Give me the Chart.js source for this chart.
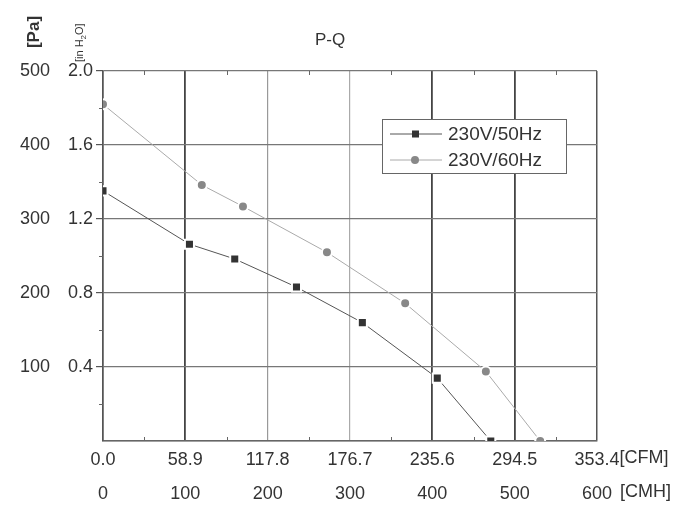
<!DOCTYPE html>
<html>
<head>
<meta charset="utf-8">
<script src="https://cdn.jsdelivr.net/npm/chart.js@4.4.0/dist/chart.umd.min.js"></script>
<style>
  html, body { margin: 0; padding: 0; background: #fff; }
  #wrap { width: 700px; height: 524px; }
</style>
</head>
<body>
<div id="wrap"><canvas id="pqChart"></canvas></div>
<script>
// tick labels
var cmhTicks = [0, 100, 200, 300, 400, 500, 600];
var cfmLabels = ["0.0", "58.9", "117.8", "176.7", "235.6", "294.5", "353.4"];
var paTicks = [0, 100, 200, 300, 400, 500];
var inh2oLabels = ["0.0", "0.4", "0.8", "1.2", "1.6", "2.0"];

// series (flow in CMH, pressure in Pa)
var seriesNames = ["230V/50Hz", "230V/60Hz"];
var flow50 = [0, 105, 160, 235, 315, 406, 471];
var press50 = [338, 266, 246, 208, 160, 85, 0];
var flow60 = [0, 120, 170, 272, 367, 465, 531];
var press60 = [455, 346, 317, 255, 186, 94, 0];

function toPoints(xs, ys) {
  return xs.map(function (x, i) { return { x: x, y: ys[i] }; });
}

// darker vertical lines like the original sheet
var vGridColor = ['#555', '#444', '#999', '#aaa', '#444', '#444', '#555'];
var vGridWidth = [1.5, 1.8, 1.2, 1.2, 1.8, 1.8, 1.5];

var FONT = '"Liberation Sans", Arial, sans-serif';
Chart.defaults.font.family = FONT;
Chart.defaults.font.size = 18;
Chart.defaults.color = '#333';

var extras = {
  id: 'extras',
  afterDatasetsDraw: function (chart) {
    // minor ticks halfway between the major ones
    var ctx = chart.ctx, area = chart.chartArea;
    var xm = chart.scales.x, yp = chart.scales.y;
    ctx.save();
    ctx.strokeStyle = '#666';
    ctx.lineWidth = 1;
    ctx.beginPath();
    for (var i = 0; i < cmhTicks.length - 1; i++) {
      var px = Math.round(xm.getPixelForValue((cmhTicks[i] + cmhTicks[i + 1]) / 2)) + 0.5;
      ctx.moveTo(px, area.bottom);
      ctx.lineTo(px, area.bottom - 4);
      ctx.moveTo(px, area.top);
      ctx.lineTo(px, area.top + 4);
    }
    for (var j = 0; j < paTicks.length - 1; j++) {
      var py = Math.round(yp.getPixelForValue((paTicks[j] + paTicks[j + 1]) / 2)) + 0.5;
      ctx.moveTo(area.left, py);
      ctx.lineTo(area.left - 4, py);
    }
    ctx.stroke();
    ctx.restore();
  },
  afterDraw: function (chart) {
    var ctx = chart.ctx, area = chart.chartArea;
    ctx.save();
    ctx.fillStyle = '#333';
    ctx.font = '17px ' + FONT;
    ctx.textBaseline = 'middle';

    // title
    ctx.textAlign = 'center';
    ctx.fillText('P-Q', area.left + 227, area.top - 31);

    // axis units after the last tick
    ctx.font = '18px ' + FONT;
    var xc = chart.scales.xCfm, xm = chart.scales.x;
    ctx.textAlign = 'left';
    var lastCfm = cfmLabels[cfmLabels.length - 1];
    var px = xc.getPixelForValue(parseFloat(lastCfm));
    ctx.fillText('[CFM]', px + ctx.measureText(lastCfm).width / 2, area.bottom + 17);
    var lastCmh = String(cmhTicks[cmhTicks.length - 1]);
    px = xm.getPixelForValue(cmhTicks[cmhTicks.length - 1]);
    ctx.fillText('[CMH]', px + ctx.measureText(lastCmh).width / 2 + 8, area.bottom + 51);

    // y titles, rotated
    ctx.save();
    ctx.translate(34, area.top - 39);
    ctx.rotate(-Math.PI / 2);
    ctx.textAlign = 'center';
    ctx.font = 'bold 17px ' + FONT;
    ctx.fillText('[Pa]', 0, 0);
    ctx.restore();

    ctx.save();
    ctx.translate(80, area.top - 9);
    ctx.rotate(-Math.PI / 2);
    ctx.textAlign = 'left';
    ctx.font = '11px ' + FONT;
    var t1 = '[in H', t2 = '2', t3 = 'O]';
    var w1 = ctx.measureText(t1).width;
    ctx.fillText(t1, 0, 0);
    ctx.font = '8px ' + FONT;
    ctx.fillText(t2, w1, 4);
    var w2 = ctx.measureText(t2).width;
    ctx.font = '11px ' + FONT;
    ctx.fillText(t3, w1 + w2, 0);
    ctx.restore();

    // legend box
    var lx = area.left + 279, ly = area.top + 48, lw = 184, lh = 54;
    ctx.fillStyle = '#fff';
    ctx.fillRect(lx, ly, lw, lh);
    ctx.strokeStyle = '#666';
    ctx.lineWidth = 1;
    ctx.strokeRect(lx + 0.5, ly + 0.5, lw, lh);
    ctx.font = '19px ' + FONT;
    chart.data.datasets.forEach(function (ds, i) {
      var ry = ly + 15 + i * 26;
      ctx.strokeStyle = ds.borderColor;
      ctx.lineWidth = 1;
      ctx.beginPath();
      ctx.moveTo(lx + 8, ry);
      ctx.lineTo(lx + 60, ry);
      ctx.stroke();
      ctx.fillStyle = ds.pointBackgroundColor;
      if (ds.pointStyle === 'rect') {
        ctx.fillRect(lx + 30, ry - 3.5, 7, 7);
      } else {
        ctx.beginPath();
        ctx.arc(lx + 33, ry, 4, 0, Math.PI * 2);
        ctx.fill();
      }
      ctx.fillStyle = '#333';
      ctx.textAlign = 'left';
      ctx.fillText(ds.label, lx + 66, ry + 1);
    });
    ctx.restore();
  }
};

var ctx = document.getElementById('pqChart');
var pqChart = new Chart(ctx, {
  type: 'line',
  data: {
    datasets: [{
      label: seriesNames[0],
      data: toPoints(flow50, press50),
      borderColor: '#555',
      borderWidth: 1,
      pointStyle: 'rect',
      pointRadius: 6.4,
      pointBackgroundColor: '#333',
      pointBorderColor: '#fff',
      pointBorderWidth: 2,
      xAxisID: 'x',
      yAxisID: 'y',
      clip: 0
    }, {
      label: seriesNames[1],
      data: toPoints(flow60, press60),
      borderColor: '#aaa',
      borderWidth: 1,
      pointStyle: 'circle',
      pointRadius: 5,
      pointBackgroundColor: '#888',
      pointBorderColor: '#fff',
      pointBorderWidth: 2,
      xAxisID: 'x',
      yAxisID: 'y',
      clip: 0
    }]
  },
  options: {
    responsive: true,
    maintainAspectRatio: false,
    animation: false,
    layout: { padding: { left: 0, top: 71, right: 103, bottom: 0 } },
    plugins: {
      legend: { display: false },
      tooltip: { enabled: false }
    },
    scales: {
      x: {
        type: 'linear',
        position: 'bottom',
        weight: 1,
        min: 0,
        max: 600,
        afterBuildTicks: function (scale) {
          scale.ticks = cmhTicks.map(function (v) { return { value: v }; });
        },
        afterFit: function (scale) { scale.height = 50; },
        ticks: { padding: 9, maxRotation: 0, color: '#333' },
        grid: { display: false, drawTicks: false },
        border: { display: false }
      },
      xCfm: {
        type: 'linear',
        position: 'bottom',
        weight: 0,
        min: 0,
        max: 353.4,
        afterBuildTicks: function (scale) {
          scale.ticks = cfmLabels.map(function (v) { return { value: parseFloat(v) }; });
        },
        afterFit: function (scale) { scale.height = 33; },
        ticks: {
          padding: 8,
          maxRotation: 0,
          color: '#333',
          callback: function (value, index) { return cfmLabels[index]; }
        },
        grid: {
          drawOnChartArea: true,
          drawTicks: false,
          color: function (c) { return vGridColor[c.index]; },
          lineWidth: function (c) { return vGridWidth[c.index]; }
        },
        border: { display: true, color: '#666', width: 1.5 }
      },
      y: {
        type: 'linear',
        position: 'left',
        weight: 1,
        min: 0,
        max: 500,
        afterBuildTicks: function (scale) {
          scale.ticks = paTicks.map(function (v) { return { value: v }; });
        },
        afterFit: function (scale) { scale.width = 55; },
        ticks: {
          padding: 5,
          color: '#333',
          callback: function (value) { return value === 0 ? '' : String(value); }
        },
        grid: { display: false, drawTicks: false },
        border: { display: false }
      },
      yIn: {
        type: 'linear',
        position: 'left',
        weight: 0,
        min: 0,
        max: 2.0,
        afterBuildTicks: function (scale) {
          scale.ticks = inh2oLabels.map(function (v) { return { value: parseFloat(v) }; });
        },
        afterFit: function (scale) { scale.width = 48; },
        ticks: {
          padding: 3,
          color: '#333',
          callback: function (value, index) { return index === 0 ? '' : inh2oLabels[index]; }
        },
        grid: {
          drawOnChartArea: true,
          drawTicks: true,
          tickLength: 7,
          color: '#777',
          tickColor: function (c) { return c.index === 0 ? 'rgba(0,0,0,0)' : '#555'; },
          lineWidth: 1.2
        },
        border: { display: true, color: '#555', width: 1.5 }
      }
    }
  },
  plugins: [extras]
});
</script>
</body>
</html>
